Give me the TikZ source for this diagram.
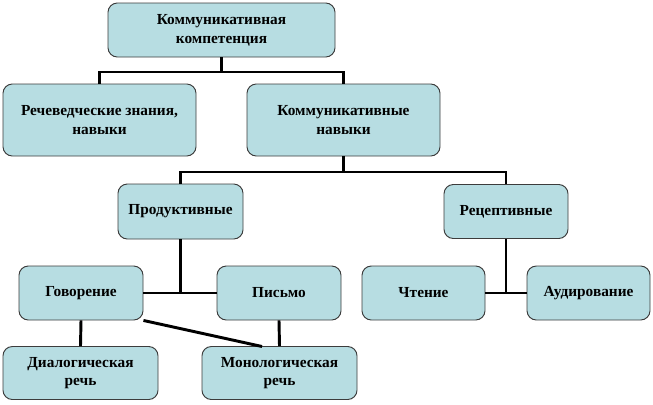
\documentclass[tikz,border=0pt]{standalone}
\usepackage{fontspec}
\setmainfont{Liberation Serif}[BoldFont={Liberation Serif Bold}]
\definecolor{boxfill}{RGB}{183,221,226}
\definecolor{boxline}{RGB}{60,60,60}
\tikzset{
  box/.style 2 args={draw=boxline, line width=0.7pt, fill=boxfill, rounded corners=7pt,
    align=center, inner sep=0pt, minimum width=#1*0.75pt, minimum height=#2*0.75pt,
    font=\fontsize{11.5}{14}\selectfont\bfseries},
  link/.style={draw=black, line width=2.2pt}
}
\begin{document}
\begin{tikzpicture}[x=0.75pt,y=-0.75pt]
\useasboundingbox (0,0) rectangle (653,404);
\node[box={227}{54}] (top) at (221.5,30) {Коммуникативная\\компетенция};
\node[box={193}{72}] (rech) at (99.5,120) {Речеведческие знания,\\навыки};
\node[box={193}{72}] (komm) at (343.5,120) {Коммуникативные\\навыки};
\node[box={125}{55}] (prod) at (180.5,211.5) {Продуктивные};
\node[box={124}{54}] (recep) at (506,211.5) {Рецептивные};
\node[box={124}{54}] (gov) at (81,293) {Говорение};
\node[box={124}{54}] (pis) at (279,293) {Письмо};
\node[box={123}{54}] (cht) at (423.5,293) {Чтение};
\node[box={123}{54}] (aud) at (588.5,293) {Аудирование};
\node[box={155}{53}] (dial) at (80.5,373) {Диалогическая\\речь};
\node[box={155}{53}] (mono) at (279.5,373) {Монологическая\\речь};
\coordinate (j1) at (221.5,72);
\coordinate (j2) at (343.5,172);
\coordinate (j3) at (180.5,293);
\coordinate (j4) at (506,293);
\coordinate (m1) at (262,346.5);
\draw[link] (top.south) -- (j1);
\draw[link] (rech.north) |- (j1) -| (komm.north);
\draw[link] (komm.south) -- (j2);
\draw[link] (prod.north) |- (j2) -| (recep.north);
\draw[link] (prod.south) -- (j3);
\draw[link] (gov.east) -- (pis.west);
\draw[link] (recep.south) -- (j4);
\draw[link] (cht.east) -- (aud.west);
\draw[link] (gov.south) -- (dial.north);
\draw[link] (pis.south) -- (mono.north);
\draw[link] (gov.south east) -- (m1);
\end{tikzpicture}
\end{document}
